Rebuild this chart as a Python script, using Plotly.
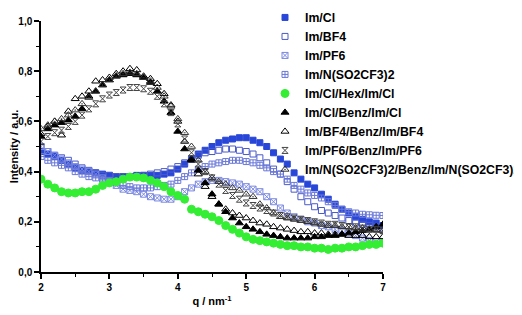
import plotly.graph_objects as go

q = [2.0, 2.1, 2.2, 2.3, 2.4, 2.5, 2.6, 2.7, 2.8, 2.9,
     3.0, 3.1, 3.2, 3.3, 3.4, 3.5, 3.6, 3.7, 3.8, 3.9,
     4.0, 4.1, 4.2, 4.3, 4.4, 4.5, 4.6, 4.7, 4.8, 4.9,
     5.0, 5.1, 5.2, 5.3, 5.4, 5.5, 5.6, 5.7, 5.8, 5.9,
     6.0, 6.1, 6.2, 6.3, 6.4, 6.5, 6.6, 6.7, 6.8, 6.9, 7.0]

im_cl = [0.48, 0.47, 0.46, 0.445, 0.43, 0.415, 0.405, 0.40, 0.395, 0.39,
         0.385, 0.38, 0.38, 0.38, 0.385, 0.385, 0.385, 0.385, 0.39, 0.395,
         0.41, 0.43, 0.45, 0.47, 0.485, 0.50, 0.515, 0.525, 0.53, 0.535,
         0.535, 0.525, 0.515, 0.50, 0.475, 0.45, 0.43, 0.395, 0.37, 0.35,
         0.335, 0.31, 0.29, 0.27, 0.25, 0.235, 0.22, 0.21, 0.20, 0.195, 0.185]

im_bf4 = [0.50, 0.48, 0.465, 0.455, 0.445, 0.43, 0.415, 0.405, 0.395, 0.385,
          0.385, 0.38, 0.38, 0.38, 0.38, 0.385, 0.39, 0.395, 0.40, 0.41,
          0.42, 0.435, 0.45, 0.465, 0.475, 0.48, 0.485, 0.49, 0.49, 0.485,
          0.48, 0.47, 0.455, 0.435, 0.41, 0.39, 0.36, 0.33, 0.30, 0.28,
          0.26, 0.245, 0.235, 0.225, 0.215, 0.205, 0.195, 0.19, 0.185, 0.18, 0.175]

im_pf6 = [0.50, 0.48, 0.465, 0.45, 0.435, 0.42, 0.41, 0.40, 0.39, 0.375,
          0.36, 0.345, 0.33, 0.325, 0.32, 0.31, 0.30, 0.295, 0.29, 0.29,
          0.30, 0.32, 0.335, 0.35, 0.36, 0.365, 0.365, 0.36, 0.355, 0.35,
          0.34, 0.33, 0.32, 0.30, 0.28, 0.255, 0.235, 0.22, 0.21, 0.20,
          0.195, 0.185, 0.18, 0.17, 0.165, 0.155, 0.145, 0.135, 0.125, 0.12, 0.115]

im_ntf2 = [0.46, 0.445, 0.435, 0.425, 0.415, 0.40, 0.39, 0.38, 0.375, 0.37,
           0.365, 0.355, 0.345, 0.34, 0.335, 0.335, 0.335, 0.34, 0.345, 0.35,
           0.365, 0.38, 0.395, 0.41, 0.42, 0.43, 0.435, 0.44, 0.445, 0.445,
           0.44, 0.435, 0.425, 0.415, 0.40, 0.39, 0.37, 0.345, 0.33, 0.315,
           0.305, 0.295, 0.28, 0.265, 0.25, 0.24, 0.235, 0.23, 0.228, 0.226, 0.225]

hex_cl = [0.37, 0.35, 0.335, 0.32, 0.315, 0.315, 0.32, 0.32, 0.33, 0.345,
          0.355, 0.36, 0.37, 0.378, 0.378, 0.375, 0.365, 0.355, 0.34, 0.32,
          0.305, 0.29, 0.25, 0.24, 0.23, 0.22, 0.205, 0.185, 0.17, 0.155,
          0.14, 0.13, 0.125, 0.12, 0.115, 0.11, 0.105, 0.105, 0.10, 0.10,
          0.095, 0.095, 0.09, 0.095, 0.095, 0.10, 0.10, 0.105, 0.11, 0.11, 0.115]

benz_cl = [0.54, 0.57, 0.585, 0.595, 0.605, 0.62, 0.65, 0.70, 0.72, 0.745,
           0.765, 0.78, 0.785, 0.79, 0.785, 0.775, 0.755, 0.72, 0.68, 0.635,
           0.56, 0.49, 0.445, 0.405, 0.355, 0.31, 0.27, 0.24, 0.215, 0.195,
           0.18, 0.17, 0.16, 0.15, 0.145, 0.14, 0.135, 0.135, 0.135, 0.135,
           0.14, 0.14, 0.145, 0.145, 0.15, 0.155, 0.16, 0.165, 0.17, 0.18, 0.19]

benz_bf4 = [0.55, 0.58, 0.60, 0.545, 0.64, 0.69, 0.70, 0.72, 0.76, 0.765,
            0.775, 0.79, 0.80, 0.81, 0.805, 0.78, 0.77, 0.75, 0.71, 0.665,
            0.60, 0.52, 0.45, 0.39, 0.34, 0.30, 0.27, 0.25, 0.235, 0.225,
            0.215, 0.205, 0.195, 0.19, 0.18, 0.175, 0.17, 0.165, 0.16, 0.16,
            0.155, 0.155, 0.15, 0.15, 0.15, 0.145, 0.145, 0.145, 0.14, 0.14, 0.14]

benz_pf6 = [0.52, 0.54, 0.555, 0.565, 0.58, 0.60, 0.625, 0.65, 0.67, 0.69,
            0.705, 0.715, 0.725, 0.735, 0.735, 0.73, 0.72, 0.70, 0.67, 0.635,
            0.59, 0.53, 0.475, 0.43, 0.40, 0.375, 0.35, 0.325, 0.305, 0.29,
            0.275, 0.265, 0.255, 0.245, 0.235, 0.225, 0.22, 0.215, 0.21, 0.205,
            0.20, 0.195, 0.19, 0.19, 0.185, 0.18, 0.18, 0.175, 0.17, 0.17, 0.165]

benz_ntf2 = [0.57, 0.585, 0.60, 0.61, 0.625, 0.645, 0.67, 0.695, 0.72, 0.745,
             0.765, 0.78, 0.79, 0.795, 0.79, 0.775, 0.76, 0.735, 0.70, 0.66,
             0.61, 0.555, 0.50, 0.445, 0.40, 0.375, 0.36, 0.35, 0.335, 0.325,
             0.31, 0.30, 0.27, 0.255, 0.235, 0.22, 0.215, 0.21, 0.205, 0.20,
             0.195, 0.19, 0.185, 0.185, 0.18, 0.18, 0.175, 0.175, 0.17, 0.168, 0.165]

series = [
    ("Im/Cl", im_cl, "square", "#2846d8", 6),
    ("Im/BF4", im_bf4, "square-open", "#4a5ac8", 6),
    ("Im/PF6", im_pf6, "square-x-open", "#7a88e0", 6),
    ("Im/N(SO2CF3)2", im_ntf2, "square-cross-open", "#6a78d8", 6),
    ("Im/Cl/Hex/Im/Cl", hex_cl, "circle", "#33ee33", 8),
    ("Im/Cl/Benz/Im/Cl", benz_cl, "triangle-up", "#000000", 7),
    ("Im/BF4/Benz/Im/BF4", benz_bf4, "triangle-up-open", "#000000", 7),
    ("Im/PF6/Benz/Im/PF6", benz_pf6, "hourglass-open", "#444444", 6),
    ("Im/N(SO2CF3)2/Benz/Im/N(SO2CF3)2", benz_ntf2, "triangle-up-open-dot", "#333333", 7),
]

fig = go.Figure()
for name, vals, sym, col, sz in series:
    fig.add_trace(go.Scatter(
        x=q, y=vals, mode="markers", name=name,
        marker=dict(symbol=sym, color=col, size=sz, line=dict(color=col, width=1)),
    ))

bold = dict(family="Liberation Sans, Arial, sans-serif", color="black", weight="bold")

fig.update_layout(
    width=522, height=315,
    margin=dict(l=33, r=147, t=13, b=51, autoexpand=False),
    paper_bgcolor="white", plot_bgcolor="white",
    separators=",.",
    font=dict(**bold, size=10),
    showlegend=True,
    legend=dict(
        x=0.655, y=1.072, xanchor="left", yanchor="top",
        xref="paper", yref="paper",
        bgcolor="rgba(0,0,0,0)", borderwidth=0,
        font=dict(**bold, size=12.3),
        itemwidth=30, tracegroupgap=0,
        maxheight=1.0,
    ),
    xaxis=dict(
        range=[2, 7], dtick=1, tick0=2,
        showline=True, linecolor="black", linewidth=1.5,
        ticks="outside", ticklen=5, tickwidth=1.5, tickcolor="black",
        minor=dict(ticks="outside", ticklen=3, dtick=0.5, tickcolor="black", tickwidth=1),
        showgrid=False, zeroline=False,
        tickfont=dict(**bold, size=10),
        title=dict(text="q / nm<sup>-1</sup>", font=dict(**bold, size=11), standoff=6),
    ),
    yaxis=dict(
        range=[0, 1.0], dtick=0.2, tick0=0, tickformat=".1f",
        showline=True, linecolor="black", linewidth=1.5,
        ticks="outside", ticklen=5, tickwidth=1.5, tickcolor="black",
        minor=dict(ticks="outside", ticklen=3, dtick=0.1, tickcolor="black", tickwidth=1),
        showgrid=False, zeroline=False,
        tickfont=dict(**bold, size=10),
        title=dict(text="Intensity / a.u.", font=dict(**bold, size=11), standoff=0),
    ),
)

fig.write_html("out.html")
